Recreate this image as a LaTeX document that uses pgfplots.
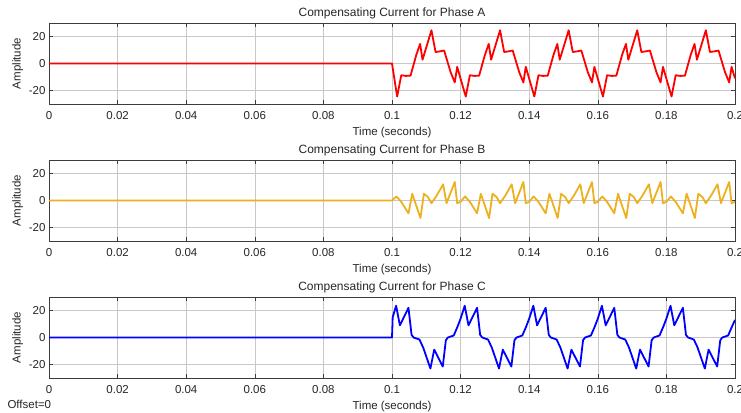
\documentclass[border=0pt]{standalone}
\usepackage{fontspec}
\setmainfont{Liberation Sans}
\usepackage{pgfplots}
\pgfplotsset{compat=1.18}
\definecolor{mred}{RGB}{255,0,0}
\definecolor{myel}{RGB}{237,177,32}
\definecolor{mblu}{RGB}{0,0,255}
\definecolor{gridc}{RGB}{200,200,200}
\definecolor{axc}{RGB}{60,60,60}
\pgfplotsset{
  pan/.style={
    scale only axis, width=686pt, height=81pt,
    anchor=south west,
    xmin=0, xmax=0.2, ymin=-30, ymax=30,
    xtick={0,0.02,0.04,0.06,0.08,0.1,0.12,0.14,0.16,0.18,0.2},
    xticklabels={0,0.02,0.04,0.06,0.08,0.1,0.12,0.14,0.16,0.18,0.2},
    ytick={-20,0,20},
    grid=major,
    major grid style={gridc, line width=0.6pt},
    axis line style={axc, line width=0.6pt},
    tick style={axc, line width=0.6pt},
    major tick length=4pt,
    /pgf/number format/assume math mode=true,
    ticklabel style={font=\fontsize{11.5}{13}\selectfont, text=black!85},
    label style={font=\fontsize{11.5}{13}\selectfont, text=black!85},
    title style={font=\fontsize{12}{14}\selectfont, text=black!85, yshift=-5.5pt},
    xlabel={Time (seconds)}, ylabel={Amplitude},
    xticklabel style={yshift=-4pt},
    xlabel style={yshift=-1pt},
    ylabel style={yshift=-1pt},
    every axis plot/.append style={line width=1.8pt, line join=round},
  }
}
\begin{document}
\begin{tikzpicture}[x=1pt,y=1pt]
\path[use as bounding box] (0,0) rectangle (741,412);
\begin{axis}[pan, at={(49pt,308pt)}, title={Compensating Current for Phase A}]
\addplot[mred, no markers] coordinates {
(0,0) (0.1,0)
(0.1015,-24.5) (0.1027,-8.7) (0.1040,-9.2) (0.1054,-9.0) (0.1071,6.5) (0.1082,14.5) (0.1089,2.8) (0.1115,24.6) (0.1127,8.5) (0.1140,9.0) (0.1152,9.6) (0.1171,-6.5) (0.1183,-14) (0.1190,-2.5)
(0.1215,-24.5) (0.1227,-8.7) (0.1240,-9.2) (0.1254,-9.0) (0.1271,6.5) (0.1282,14.5) (0.1289,2.8) (0.1315,24.6) (0.1327,8.5) (0.1340,9.0) (0.1352,9.6) (0.1371,-6.5) (0.1383,-14) (0.1390,-2.5)
(0.1415,-24.5) (0.1427,-8.7) (0.1440,-9.2) (0.1454,-9.0) (0.1471,6.5) (0.1482,14.5) (0.1489,2.8) (0.1515,24.6) (0.1527,8.5) (0.1540,9.0) (0.1552,9.6) (0.1571,-6.5) (0.1583,-14) (0.1590,-2.5)
(0.1615,-24.5) (0.1627,-8.7) (0.1640,-9.2) (0.1654,-9.0) (0.1671,6.5) (0.1682,14.5) (0.1689,2.8) (0.1715,24.6) (0.1727,8.5) (0.1740,9.0) (0.1752,9.6) (0.1771,-6.5) (0.1783,-14) (0.1790,-2.5)
(0.1815,-24.5) (0.1827,-8.7) (0.1840,-9.2) (0.1854,-9.0) (0.1871,6.5) (0.1882,14.5) (0.1889,2.8) (0.1915,24.6) (0.1927,8.5) (0.1940,9.0) (0.1952,9.6) (0.1971,-6.5) (0.1983,-14) (0.1990,-2.5)
(0.2000,-11)
};
\end{axis}
\begin{axis}[pan, at={(49pt,171pt)}, title={Compensating Current for Phase B}]
\addplot[myel, no markers] coordinates {
(0,0) (0.1,0)
(0.1013,3) (0.1027,-1) (0.1048,-9.5) (0.1059,5) (0.1083,-13) (0.1093,5) (0.1105,2.5) (0.1115,-2) (0.1130,3.5) (0.1149,12) (0.1159,-2) (0.1183,13.7) (0.1190,-2)
(0.1200,-1) (0.1213,3) (0.1227,-1) (0.1248,-9.5) (0.1259,5) (0.1283,-13) (0.1293,5) (0.1305,2.5) (0.1315,-2) (0.1330,3.5) (0.1349,12) (0.1359,-2) (0.1383,13.7) (0.1390,-2)
(0.1400,-1) (0.1413,3) (0.1427,-1) (0.1448,-9.5) (0.1459,5) (0.1483,-13) (0.1493,5) (0.1505,2.5) (0.1515,-2) (0.1530,3.5) (0.1549,12) (0.1559,-2) (0.1583,13.7) (0.1590,-2)
(0.1600,-1) (0.1613,3) (0.1627,-1) (0.1648,-9.5) (0.1659,5) (0.1683,-13) (0.1693,5) (0.1705,2.5) (0.1715,-2) (0.1730,3.5) (0.1749,12) (0.1759,-2) (0.1783,13.7) (0.1790,-2)
(0.1800,-1) (0.1813,3) (0.1827,-1) (0.1848,-9.5) (0.1859,5) (0.1883,-13) (0.1893,5) (0.1905,2.5) (0.1915,-2) (0.1930,3.5) (0.1949,12) (0.1959,-2) (0.1983,13.7) (0.1990,-2)
(0.2000,-1)
};
\end{axis}
\begin{axis}[pan, at={(49pt,34pt)}, title={Compensating Current for Phase C}]
\addplot[mblu, no markers] coordinates {
(0,0) (0.1,0)
(0.1002,15) (0.1012,23.5) (0.1023,9) (0.1048,22) (0.1057,2) (0.1063,0) (0.1080,-1.5) (0.1091,-7.5) (0.1112,-23) (0.1123,-9) (0.1148,-21.5) (0.1157,-2) (0.1163,0) (0.1180,1.5) (0.1191,8)
(0.1200,14) (0.1212,23.5) (0.1223,9) (0.1248,22) (0.1257,2) (0.1263,0) (0.1280,-1.5) (0.1291,-7.5) (0.1312,-23) (0.1323,-9) (0.1348,-21.5) (0.1357,-2) (0.1363,0) (0.1380,1.5) (0.1391,8)
(0.1400,14) (0.1412,23.5) (0.1423,9) (0.1448,22) (0.1457,2) (0.1463,0) (0.1480,-1.5) (0.1491,-7.5) (0.1512,-23) (0.1523,-9) (0.1548,-21.5) (0.1557,-2) (0.1563,0) (0.1580,1.5) (0.1591,8)
(0.1600,14) (0.1612,23.5) (0.1623,9) (0.1648,22) (0.1657,2) (0.1663,0) (0.1680,-1.5) (0.1691,-7.5) (0.1712,-23) (0.1723,-9) (0.1748,-21.5) (0.1757,-2) (0.1763,0) (0.1780,1.5) (0.1791,8)
(0.1800,14) (0.1812,23.5) (0.1823,9) (0.1848,22) (0.1857,2) (0.1863,0) (0.1880,-1.5) (0.1891,-7.5) (0.1912,-23) (0.1923,-9) (0.1948,-21.5) (0.1957,-2) (0.1963,0) (0.1980,1.5) (0.1991,8)
(0.2000,13)
};
\end{axis}
\node[anchor=base west, font=\fontsize{11.5}{13}\selectfont, text=black!85] at (4,3) {Offset=0};
\end{tikzpicture}
\end{document}
